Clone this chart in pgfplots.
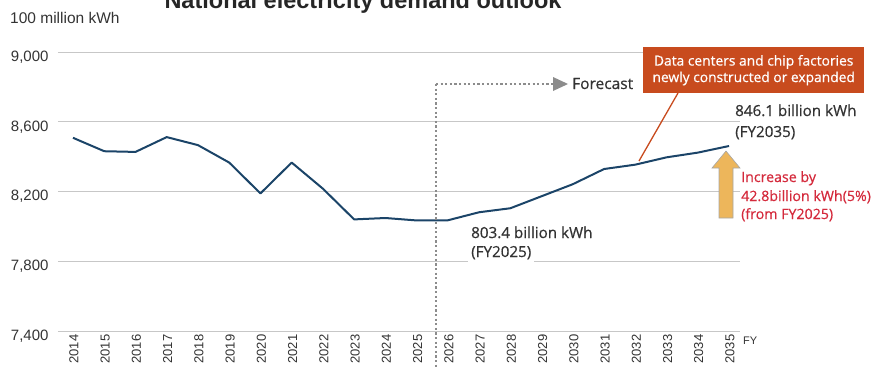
\documentclass[border=0pt]{standalone}
\usepackage{pgfplots}
\pgfplotsset{compat=1.18}
\usepackage{fontspec}
\setmainfont{Liberation Sans}
\newfontfamily\annfont{Open Sans}[FakeBold=0.6]
\usetikzlibrary{arrows.meta}
\definecolor{navy}{HTML}{1B4468}
\definecolor{boxorange}{HTML}{C84B1E}
\definecolor{incred}{HTML}{D42A3C}
\definecolor{arrowyel}{HTML}{EDB65B}
\definecolor{txtgray}{HTML}{333333}
\definecolor{dotgray}{HTML}{8C8C8C}
\begin{document}
\begin{tikzpicture}[x=1pt,y=1pt]
\useasboundingbox (0,0) rectangle (881,-367);
\begin{axis}[
  at={(58pt,-331pt)}, anchor=south west,
  scale only axis, width=682pt, height=279pt,
  xmin=2013.52, xmax=2035.35, ymin=7400, ymax=9000,
  clip=false,
  axis line style={draw=none},
  major tick length=0pt,
  ytick={7400,7800,8200,8600,9000},
  xtick={2014,...,2035},
  ymajorgrids, grid style={draw=black!22, line width=1pt},
  /pgf/number format/assume math mode=true,
  yticklabel style={font=\fontsize{15}{15}\selectfont, text=txtgray, anchor=east, xshift=-6pt, yshift=-5pt},
  xticklabel style={font=\fontsize{13}{13}\selectfont, text=txtgray, rotate=90, anchor=east, yshift=-1pt, /pgf/number format/1000 sep={}},
]
\addplot[navy, line width=2pt, line join=round] coordinates {
(2014,8508) (2015,8431) (2016,8427) (2017,8512) (2018,8466) (2019,8366)
(2020,8189) (2021,8366) (2022,8216) (2023,8040) (2024,8048) (2025,8034)
(2026,8035) (2027,8081) (2028,8104) (2029,8173) (2030,8242) (2031,8329)
(2032,8354) (2033,8396) (2034,8423) (2035,8461)};
\end{axis}
% title and unit
\node[anchor=base, font=\bfseries\fontsize{23.5}{23.5}\selectfont, text=black!85] at (363,-8) {National electricity demand outlook};
\node[anchor=base west, font=\fontsize{15.5}{15.5}\selectfont, text=txtgray, inner sep=0pt] at (10,-23) {100 million kWh};
\node[anchor=base west, font=\fontsize{11}{11}\selectfont, text=txtgray, inner sep=0pt] at (743,-344) {FY};
% forecast divider
\draw[dotgray, line width=2.2pt, dash pattern=on 2.2pt off 2.4pt] (436,-84) -- (436,-367);
\draw[dotgray, line width=2.2pt, dash pattern=on 2.2pt off 2.4pt] (436,-84) -- (554,-84);
\fill[dotgray] (553,-77) -- (568,-84) -- (553,-91) -- cycle;
\node[anchor=base west, font=\annfont\fontsize{15.5}{15.5}\selectfont, text=txtgray, inner sep=0pt] at (572,-89) {Forecast};
% orange callout
\draw[boxorange, line width=1.3pt] (678,-93) -- (639,-161);
\node[fill=boxorange, text=white, anchor=north west, minimum width=221pt, minimum height=46pt, inner sep=0pt, align=center, font=\annfont\fontsize{13.8}{16.5}\selectfont] at (643,-47) {Data centers and chip factories\\newly constructed or expanded};
% value labels
\node[fill=white, anchor=base west, inner sep=3pt, text=txtgray, font=\annfont\fontsize{15.2}{15}\selectfont] at (468,-238) {803.4 billion kWh};
\node[fill=white, anchor=base west, inner sep=3pt, text=txtgray, font=\annfont\fontsize{15.2}{15}\selectfont] at (468,-257) {(FY2025)};
\node[fill=white, anchor=base west, inner sep=3pt, text=txtgray, font=\annfont\fontsize{15.2}{15}\selectfont] at (732,-116) {846.1 billion kWh};
\node[fill=white, anchor=base west, inner sep=3pt, text=txtgray, font=\annfont\fontsize{15.2}{15}\selectfont] at (732,-137) {(FY2035)};
% increase arrow
\draw[fill=arrowyel, draw=black!35, line width=0.6pt] (719,-218) -- (733,-218) -- (733,-168) -- (740,-168) -- (726,-151) -- (712,-168) -- (719,-168) -- cycle;
\node[anchor=base west, inner sep=0pt, text=incred, font=\annfont\fontsize{14.2}{14}\selectfont] at (741,-182) {Increase by};
\node[anchor=base west, inner sep=0pt, text=incred, font=\annfont\fontsize{14.2}{14}\selectfont] at (741,-201) {42.8billion kWh(5\%)};
\node[anchor=base west, inner sep=0pt, text=incred, font=\annfont\fontsize{14.2}{14}\selectfont] at (741,-219) {(from FY2025)};
\end{tikzpicture}
\end{document}
